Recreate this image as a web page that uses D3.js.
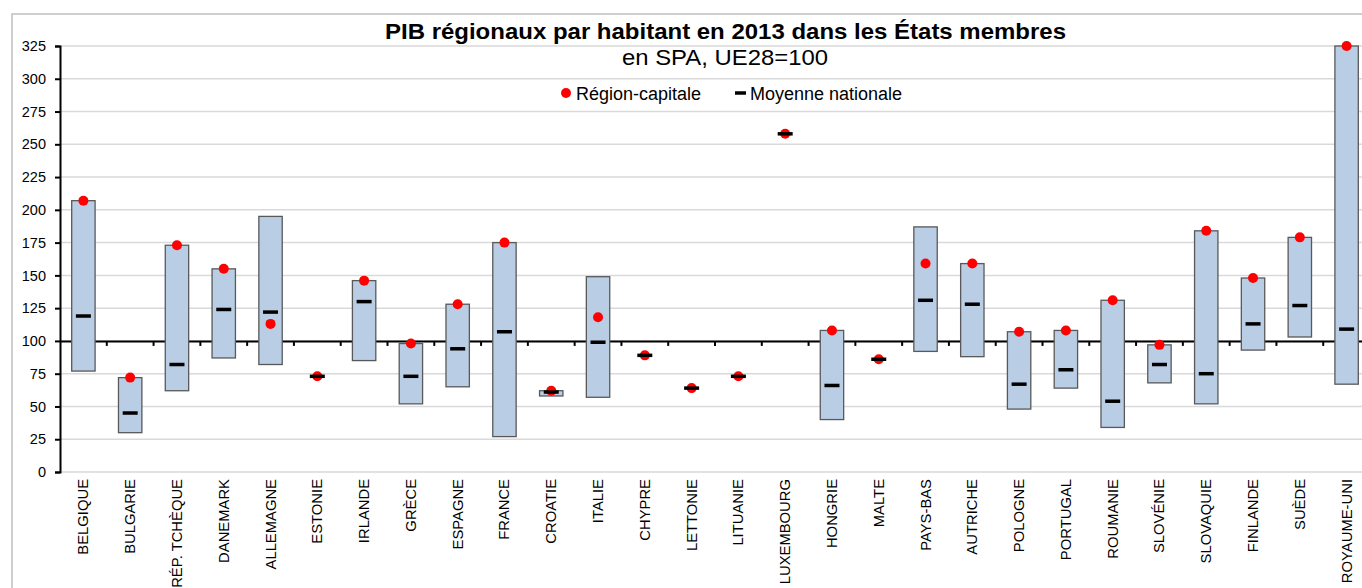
<!DOCTYPE html>
<html><head><meta charset="utf-8">
<script src="https://cdn.jsdelivr.net/npm/d3@7"></script>
<style>
body{margin:0;background:#fff;}
svg{display:block;font-family:"Liberation Sans",Arial,sans-serif;}
</style></head>
<body>
<svg id="chart" width="1362" height="588"></svg>
<script>
const categories = ["BELGIQUE","BULGARIE","RÉP. TCHÈQUE","DANEMARK","ALLEMAGNE","ESTONIE","IRLANDE","GRÈCE","ESPAGNE","FRANCE","CROATIE","ITALIE","CHYPRE","LETTONIE","LITUANIE","LUXEMBOURG","HONGRIE","MALTE","PAYS-BAS","AUTRICHE","POLOGNE","PORTUGAL","ROUMANIE","SLOVÉNIE","SLOVAQUIE","FINLANDE","SUÈDE","ROYAUME-UNI"];
const maxVals     = [207, 72,173,155,195, 73,146, 98,128,175, 62,149, 89, 64, 73,258,108, 86,187,159,107,108,131, 97,184,148,179,325];
const minVals     = [ 77, 30, 62, 87, 82, 73, 85, 52, 65, 27, 58, 57, 89, 64, 73,258, 40, 86, 92, 88, 48, 64, 34, 68, 52, 93,103, 67];
const meanVals    = [119, 45, 82,124,122, 73,130, 73, 94,107, 61, 99, 89, 64, 73,258, 66, 86,131,128, 67, 78, 54, 82, 75,113,127,109];
const capitalVals = [207, 72,173,155,113, 73,146, 98,128,175, 62,118, 89, 64, 73,258,108, 86,159,159,107,108,131, 97,184,148,179,325];
const yTicks = [0,25,50,75,100,125,150,175,200,225,250,275,300,325];
const titleText = "PIB régionaux par habitant en 2013 dans les États membres";
const subtitleText = "en SPA, UE28=100";
const legendLabels = ["Région-capitale","Moyenne nationale"];

const svg = d3.select("#chart");
const x = d3.scaleBand().domain(categories).range([60,1370]).paddingInner(0).paddingOuter(0);
const y = d3.scaleLinear().domain([0,325]).range([472,46]);
const bw = x.bandwidth()*0.5;

// outer border
svg.append("rect").attr("x",12).attr("y",14).attr("width",1400).attr("height",620)
  .attr("fill","none").attr("stroke","#BFBFBF").attr("stroke-width",1.5);

// gridlines
svg.append("g").selectAll("line").data(yTicks).join("line")
  .attr("x1",60).attr("x2",1370).attr("y1",d=>y(d)).attr("y2",d=>y(d))
  .attr("stroke","#D9D9D9").attr("stroke-width",1.5);

// y axis
const yAxis = d3.axisLeft(y).tickValues(yTicks).tickSize(5).tickPadding(9);
const gy = svg.append("g").attr("transform","translate(60,0)").call(yAxis);
gy.select(".domain").attr("stroke","#000").attr("stroke-width",2);
gy.selectAll(".tick line").attr("stroke","#000").attr("stroke-width",2);
gy.selectAll(".tick text").attr("font-size","14.5px").attr("fill","#000")
  .attr("font-family","'Liberation Sans',Arial,sans-serif");

// x axis at 100
const xAxis = d3.axisBottom(x).tickSize(0).tickFormat("");
const gx = svg.append("g").attr("transform",`translate(0,${y(100)})`).call(xAxis);
gx.select(".domain").attr("stroke","#000").attr("stroke-width",2);
// boundary ticks
svg.append("g").selectAll("line").data(categories.slice(1)).join("line")
  .attr("x1",d=>x(d)).attr("x2",d=>x(d)).attr("y1",y(100)).attr("y2",y(100)+5)
  .attr("stroke","#000").attr("stroke-width",2);

// category labels
svg.append("g").selectAll("text").data(categories).join("text")
  .attr("transform",d=>`translate(${x(d)+x.bandwidth()/2+5},479) rotate(-90)`)
  .attr("text-anchor","end").attr("font-size","14.8px").attr("fill","#000")
  .text(d=>d);

// boxes
svg.append("g").selectAll("rect").data(categories).join("rect")
  .attr("x",d=>x(d)+x.bandwidth()/2-bw/2)
  .attr("width",bw)
  .attr("y",(d,i)=>y(maxVals[i]))
  .attr("height",(d,i)=>y(minVals[i])-y(maxVals[i]))
  .attr("fill","#B9CDE5").attr("stroke","#595959").attr("stroke-width",1.3);

// capital dots
svg.append("g").selectAll("circle").data(categories).join("circle")
  .attr("cx",d=>x(d)+x.bandwidth()/2)
  .attr("cy",(d,i)=>y(capitalVals[i]))
  .attr("r",5).attr("fill","#FF0000");

// mean dashes
svg.append("g").selectAll("line").data(categories).join("line")
  .attr("x1",d=>x(d)+x.bandwidth()/2-7.5)
  .attr("x2",d=>x(d)+x.bandwidth()/2+7.5)
  .attr("y1",(d,i)=>y(meanVals[i]))
  .attr("y2",(d,i)=>y(meanVals[i]))
  .attr("stroke","#000").attr("stroke-width",3.5);

// title
svg.append("text").attr("x",725.5).attr("y",39).attr("text-anchor","middle")
  .attr("font-size","22px").attr("font-weight","bold").attr("fill","#000")
  .attr("textLength",681).attr("lengthAdjust","spacingAndGlyphs").text(titleText);
svg.append("text").attr("x",725).attr("y",65).attr("text-anchor","middle")
  .attr("font-size","22px").attr("fill","#000")
  .attr("textLength",206).attr("lengthAdjust","spacingAndGlyphs").text(subtitleText);

// legend
const lg = svg.append("g");
lg.append("circle").attr("cx",566).attr("cy",93).attr("r",5).attr("fill","#FF0000");
lg.append("text").attr("x",576).attr("y",99.5).attr("font-size","18px").attr("fill","#000").text(legendLabels[0]);
lg.append("line").attr("x1",735).attr("x2",746).attr("y1",93).attr("y2",93).attr("stroke","#000").attr("stroke-width",3.5);
lg.append("text").attr("x",750).attr("y",99.5).attr("font-size","18px").attr("fill","#000").text(legendLabels[1]);
</script>
</body></html>
